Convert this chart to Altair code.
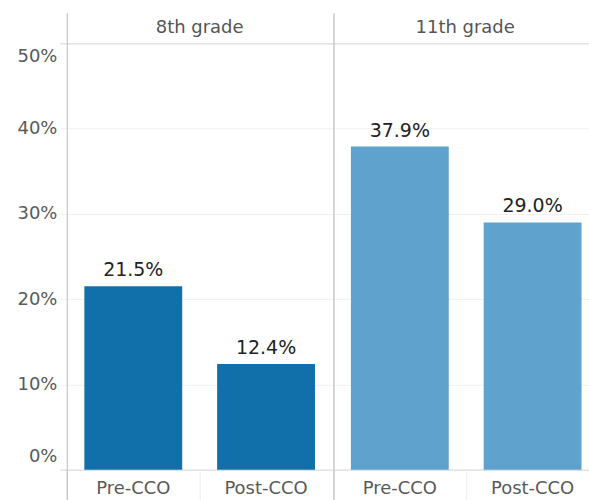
import altair as alt
import pandas as pd

# ---- data ----
grades = ["8th grade", "8th grade", "11th grade", "11th grade"]
periods = ["Pre-CCO", "Post-CCO", "Pre-CCO", "Post-CCO"]
rates = [0.215, 0.124, 0.379, 0.290]

panel_order = ["8th grade", "11th grade"]
period_order = ["Pre-CCO", "Post-CCO"]
bar_colors = ["#1170aa", "#5fa2ce"]
y_ticks = [0, 0.1, 0.2, 0.3, 0.4, 0.5]

df = pd.DataFrame({"grade": grades, "period": periods, "rate": rates})

FONT = "DejaVu Sans"
H = 427
P_IN = 0.263
BAND_POS = -P_IN / (2 * (1 - P_IN))

edge_color = {"condition": {"test": "datum.value === 0 || datum.value === 0.5",
                            "value": "#d2d2d2"}, "value": "#f0f0f0"}


def panel(grade, width, pad_outer, align, first, title_dx):
    base = alt.Chart(df).transform_filter(alt.datum.grade == grade)
    if first:
        yaxis = alt.Axis(values=y_ticks, format=".0%", title=None,
                         labelFont=FONT, labelFontSize=18, labelColor="#595959",
                         labelPadding=3, tickSize=7, tickColor=edge_color,
                         gridColor=edge_color, domain=False,
                         labelFlush=True, labelFlushOffset=-4,
                         minExtent=67, maxExtent=67)
    else:
        yaxis = alt.Axis(values=y_ticks, title=None, labels=False, ticks=False,
                         domain=False, gridColor=edge_color,
                         minExtent=0, maxExtent=0)
    x = alt.X("period:N", sort=period_order,
              scale=alt.Scale(paddingInner=P_IN, paddingOuter=pad_outer, align=align),
              axis=alt.Axis(title=None, labelAngle=0, labelFont=FONT,
                            labelFontSize=18, labelColor="#595959",
                            tickSize=31, tickColor="#ececec", bandPosition=BAND_POS,
                            labelPadding=-21, domain=False, grid=False,
                            minExtent=31, maxExtent=31))
    y = alt.Y("rate:Q", scale=alt.Scale(domain=[0, 0.5], nice=False), axis=yaxis)
    bars = base.mark_bar().encode(
        x=x, y=y,
        color=alt.Color("grade:N", scale=alt.Scale(domain=panel_order, range=bar_colors),
                        legend=None),
    )
    labels = base.mark_text(dy=-10, baseline="alphabetic", font=FONT,
                            fontSize=19, color="#222222").encode(
        x=alt.X("period:N", sort=period_order),
        y=alt.Y("rate:Q"),
        text=alt.Text("rate:Q", format=".1%"),
    )
    divider = base.mark_rule(color="#c8c8c8", strokeWidth=1).encode(
        x=alt.value(0.5), y=alt.value(-30), y2=alt.value(H + 31)
    )
    return alt.layer(bars, labels, divider).properties(
        width=width, height=H,
        title=alt.TitleParams(text=grade, font=FONT, fontSize=18, color="#555555",
                              fontWeight="normal", anchor="middle", offset=-24,
                              dx=title_dx),
    )


left = panel("8th grade", 266, P_IN / 2, 0.5, True, 0)
right = panel("11th grade", 256, 0.094, 0.7, False, 4)

chart = alt.hconcat(left, right, spacing=0).properties(
    padding={"left": 0, "top": 12, "right": 0, "bottom": 0},
    background="white",
).configure_view(stroke=None)

chart.save("out.html", embed_options={"renderer": "svg", "actions": False})
